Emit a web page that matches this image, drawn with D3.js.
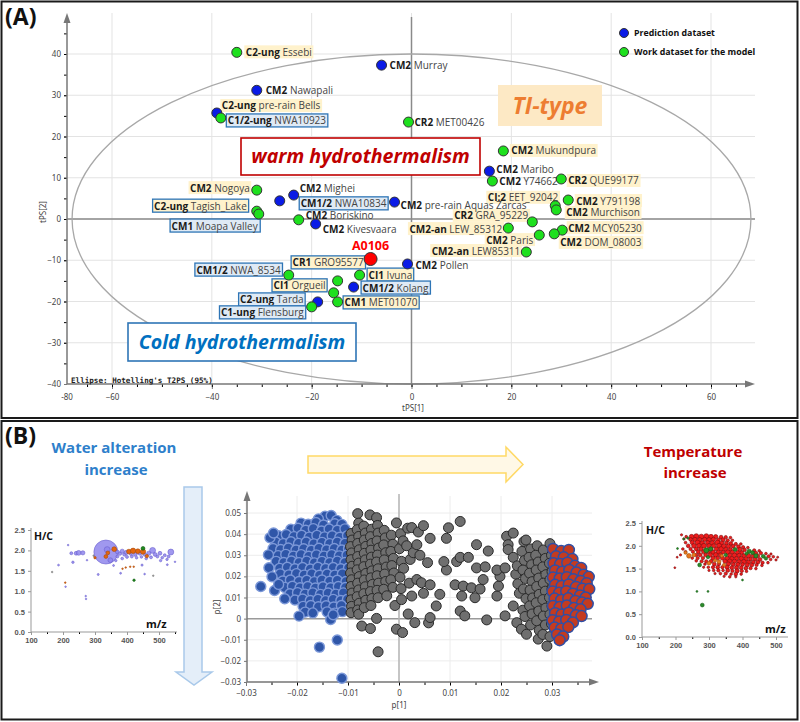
<!DOCTYPE html>
<html><head><meta charset="utf-8">
<script src="https://cdn.jsdelivr.net/npm/d3@7"></script>
<style>body{margin:0;background:#fff}svg{display:block}text{font-family:"Open Sans","Noto Sans",sans-serif}</style>
</head><body><svg id="c" width="800" height="722"></svg>
<script>
// ---------------- DATA : panel A (scores) ----------------
const sampleClass = ["C2-ung","CM2","CM2","C2-ung","C1/2-ung","CR2","CM2","CM2","CM2","CR2","CM2","CI:2","CM2","CR2","CM2-an","CM2","CM2","CM2","CM2-an","CM2","CM2","CM2","CM2","CM1/2","C2-ung","CM1","CM2","CM2","CM1/2","CR1","CI1","CI1","CM1/2","CM1","C2-ung","C1-ung"];
const sampleName = ["Essebi","Murray","Nawapali","pre-rain Bells","NWA10923","MET00426","Mukundpura","Maribo","Y74662","QUE99177","Y791198","EET_92042","Murchison","GRA_95229","LEW_85312","Paris","MCY05230","DOM_08003","LEW85311","Pollen","pre-rain Aquas Zarcas","Nogoya","Mighei","NWA10834","Tagish_Lake","Moapa Valley","Boriskino","Kivesvaara","NWA_8534","GRO95577","Ivuna","Orgueil","Kolang","MET01070","Tarda","Flensburg"];
const dataset = ["work","pred","pred","pred","work","work","work","pred","work","work","work","work","work","work","work","work","work","work","work","pred","pred","work","pred","pred","work","work","work","pred","work","work","work","work","pred","work","pred","work"];
const tps1 = [-35,-6,-31,-39,-38.2,-0.6,18.4,15.6,16.2,30,31.4,28.8,29,24.2,19.4,25.6,30.2,28.6,23,-0.8,-3.4,-31,-23.6,-26.4,-31,-30.6,-22.6,-19.2,-24.6,-14.8,-10.4,-15.6,-11.6,-14.8,-18.8,-20];
const tps2 = [40.4,37.3,31.2,25.7,24.5,23.5,16.5,11.6,9.2,9.7,4.6,3.2,2.2,-0.7,-2.2,-3.9,-2.7,-3.6,-8,-10.9,4.1,7.0,5.8,4.4,1.9,1.2,-0.2,-1.2,-13.6,-15,-13.6,-17.9,-16.5,-20.1,-20.1,-21.3];
const targetName = "A0106", targetT1 = -8.2, targetT2 = -9.7;
const xTicksA = [-60,-40,-20,0,20,40,60];
const yTicksA = [-40,-30,-20,-10,0,10,20,30,40];
const ellipseT1 = 68, ellipseT2 = 40;

// ---------------- DATA : panel B (loadings) ----------------
const bluePts = [[-0.0145,0.0485],[-0.0133,0.0488],[-0.0158,0.0472],[-0.0122,0.0465],
[-0.0192,0.0452],[-0.0178,0.0447],[-0.0163,0.0455],[-0.0148,0.0443],[-0.0126,0.0449],[-0.0112,0.0446],
[-0.0212,0.0423],[-0.0198,0.0428],[-0.0183,0.0418],[-0.0168,0.0426],[-0.0152,0.0415],[-0.0137,0.0424],[-0.0121,0.0418],[-0.0106,0.0425],
[-0.0236,0.0392],[-0.0221,0.0398],[-0.0206,0.0388],[-0.0191,0.0395],[-0.0176,0.0386],[-0.0161,0.0394],[-0.0146,0.0387],[-0.0131,0.0392],[-0.0116,0.0385],[-0.0101,0.0393],
[-0.0242,0.0362],[-0.0227,0.0355],[-0.0212,0.0364],[-0.0197,0.0356],[-0.0182,0.0363],[-0.0167,0.0354],[-0.0151,0.0361],[-0.0136,0.0355],[-0.0121,0.0362],[-0.0106,0.0356],
[-0.0247,0.0332],[-0.0232,0.0327],[-0.0217,0.0334],[-0.0202,0.0325],[-0.0187,0.0331],[-0.0172,0.0324],[-0.0157,0.0333],[-0.0142,0.0326],[-0.0127,0.0332],[-0.0112,0.0325],[-0.0099,0.0331],
[-0.0237,0.0298],[-0.0222,0.0304],[-0.0207,0.0296],[-0.0192,0.0303],[-0.0177,0.0295],[-0.0162,0.0302],[-0.0147,0.0296],[-0.0132,0.0303],[-0.0117,0.0297],[-0.0102,0.0301],
[-0.0241,0.0271],[-0.0226,0.0266],[-0.0211,0.0273],[-0.0196,0.0265],[-0.0181,0.0272],[-0.0166,0.0264],[-0.0151,0.0271],[-0.0136,0.0265],[-0.0121,0.0272],[-0.0106,0.0266],
[-0.0234,0.0238],[-0.0219,0.0243],[-0.0204,0.0236],[-0.0189,0.0242],[-0.0174,0.0235],[-0.0159,0.0243],[-0.0144,0.0237],[-0.0129,0.0242],[-0.0114,0.0236],[-0.0099,0.0241],
[-0.0233,0.0212],[-0.0216,0.0207],[-0.0201,0.0213],[-0.0186,0.0206],[-0.0171,0.0212],[-0.0156,0.0205],[-0.0141,0.0211],[-0.0126,0.0206],[-0.0111,0.0212],
[-0.0228,0.0178],[-0.0213,0.0183],[-0.0196,0.0176],[-0.0181,0.0182],[-0.0166,0.0175],[-0.0151,0.0183],[-0.0136,0.0177],[-0.0121,0.0182],[-0.0104,0.0176],
[-0.0224,0.0148],[-0.0209,0.0153],[-0.0194,0.0146],[-0.0179,0.0152],[-0.0164,0.0145],[-0.0149,0.0151],[-0.0134,0.0146],[-0.0119,0.0152],[-0.0105,0.0147],
[-0.0214,0.0118],[-0.0199,0.0123],[-0.0184,0.0116],[-0.0169,0.0122],[-0.0154,0.0115],[-0.0139,0.0121],[-0.0124,0.0116],[-0.0109,0.0122],
[-0.0204,0.0088],[-0.0189,0.0093],[-0.0174,0.0086],[-0.0159,0.0092],[-0.0144,0.0085],[-0.0129,0.0091],[-0.0114,0.0086],[-0.0101,0.0092],
[-0.0188,0.0058],[-0.0173,0.0062],[-0.0158,0.0056],[-0.0143,0.0061],[-0.0128,0.0055],[-0.0113,0.0062],
[-0.0184,0.0031],[-0.0169,0.0027],[-0.0141,0.0032],[-0.0126,0.0026],[-0.0111,0.0033],
[-0.0271,0.0152],[-0.0256,0.0302],[-0.0255,0.0241],[-0.0253,0.0383],[-0.0246,0.0405],[-0.0244,0.0133],[-0.0196,0.0012],[-0.0134,-0.0004],[-0.0129,0.0018],[-0.0156,-0.0135],[-0.0121,-0.0101],[-0.0112,-0.0282],[-0.0249,0.0198],[-0.0236,0.0162],[-0.0224,0.0094]];
const grayPts = [[-0.0094,0.0403],[-0.0092,0.0372],[-0.0095,0.0341],[-0.0093,0.0311],[-0.0094,0.0279],[-0.0092,0.0248],[-0.0095,0.0216],[-0.0093,0.0184],[-0.0094,0.0152],[-0.0092,0.0121],[-0.0094,0.0089],[-0.0093,0.0058],[-0.0094,0.0028],
[-0.0081,0.0497],[-0.0079,0.0452],[-0.0082,0.0421],[-0.0079,0.0389],[-0.0081,0.0356],[-0.0078,0.0326],[-0.0081,0.0294],[-0.0079,0.0263],[-0.0082,0.0231],[-0.0078,0.0199],[-0.0081,0.0168],[-0.0079,0.0136],[-0.0082,0.0104],[-0.0078,0.0073],[-0.0081,0.0041],[-0.0079,0.0021],
[-0.0069,0.0438],[-0.0066,0.0405],[-0.0068,0.0372],[-0.0065,0.0342],[-0.0068,0.0309],[-0.0066,0.0278],[-0.0069,0.0246],[-0.0065,0.0214],[-0.0068,0.0183],[-0.0066,0.0151],[-0.0069,0.0118],[-0.0065,0.0087],[-0.0068,0.0052],[-0.0073,-0.0035],
[-0.0057,0.0491],[-0.0054,0.0423],[-0.0056,0.0388],[-0.0053,0.0356],[-0.0055,0.0324],[-0.0054,0.0291],[-0.0056,0.0258],[-0.0053,0.0226],[-0.0055,0.0193],[-0.0052,0.0162],[-0.0056,0.0128],[-0.0053,0.0095],[-0.0055,0.0062],[-0.0056,-0.0047],
[-0.0044,0.0478],[-0.0042,0.0441],[-0.0041,0.0405],[-0.0043,0.0368],[-0.0040,0.0334],[-0.0042,0.0301],[-0.0044,0.0268],[-0.0041,0.0236],[-0.0043,0.0203],[-0.0040,0.0168],[-0.0043,0.0134],[-0.0041,0.0099],[-0.0044,0.0001],[-0.0041,-0.0157],
[-0.0029,0.0418],[-0.0027,0.0382],[-0.0030,0.0349],[-0.0026,0.0312],[-0.0029,0.0278],[-0.0025,0.0244],[-0.0028,0.0211],[-0.0026,0.0176],[-0.0030,0.0139],[-0.0024,0.0108],
[-0.0015,0.0395],[-0.0012,0.0352],[-0.0016,0.0318],[-0.0011,0.0285],[-0.0014,0.0251],[-0.0010,0.0216],[-0.0016,0.0184],[-0.0012,0.0148],[-0.0008,0.0062],
[-0.0005,0.0453],[0.0003,0.0402],[0.0001,0.0331],[0.0008,0.0368],[0.0005,0.0271],[0.0009,0.0238],[0.0002,0.0196],[0.0004,0.0142],[0.0005,0.0090],[-0.0005,-0.0050],[0.0007,-0.0066],[0.0018,0.0022],[0.0031,-0.0019],
[0.0017,0.0428],[0.0025,0.0431],[0.0022,0.0280],[0.0015,0.0345],[0.0028,0.0312],[0.0025,0.0107],[0.0020,0.0168],
[0.0038,0.0410],[0.0048,0.0440],[0.0035,0.0350],[0.0041,0.0300],[0.0035,0.0185],[0.0044,0.0170],[0.0048,0.0120],[0.0061,0.0160],[0.0061,0.0380],[0.0058,-0.0020],[0.0061,0.0005],[0.0056,0.0265],
[0.0073,0.0060],[0.0080,0.0115],[0.0093,0.0230],[0.0093,0.0380],[0.0097,0.0430],[0.0088,0.0270],[0.0110,0.0160],[0.0113,0.0270],[0.0120,0.0290],[0.0120,0.0460],[0.0120,0.0036],[0.0129,0.0013],[0.0126,0.0154],[0.0123,0.0107],[0.0136,0.0290],
[0.0142,0.0146],[0.0149,0.0099],[0.0152,0.0240],[0.0152,0.0350],[0.0159,0.0140],[0.0165,0.0185],[0.0169,0.0245],[0.0172,-0.0006],[0.0175,0.0320],
[0.0192,0.0107],[0.0195,0.0154],[0.0198,0.0200],[0.0192,0.0230],[0.0208,0.0240],[0.0208,0.0013],[0.0211,0.0390],[0.0214,0.0350],[0.0214,0.0327],
[0.0224,0.0405],[0.0224,0.0290],[0.0224,0.0060],[0.0231,-0.0019],[0.0240,-0.0050],[0.0250,-0.0074],[0.0273,-0.0097],[0.0290,-0.0130],
[0.0229,0.0210],[0.0233,0.0165],[0.0236,0.0120],[0.0232,0.0250],
[0.0245,0.0365],[0.0249,0.0372],[0.0241,0.0318],[0.0246,0.0275],[0.0243,0.0230],[0.0248,0.0190],[0.0244,0.0140],[0.0249,0.0095],[0.0243,0.0040],[0.0247,0.0010],
[0.0258,0.0330],[0.0255,0.0290],[0.0260,0.0255],[0.0256,0.0215],[0.0261,0.0175],[0.0257,0.0135],[0.0262,0.0098],[0.0256,0.0060],[0.0261,0.0022],[0.0258,-0.0030],
[0.0271,0.0345],[0.0268,0.0300],[0.0273,0.0268],[0.0269,0.0230],[0.0274,0.0192],[0.0270,0.0152],[0.0275,0.0115],[0.0269,0.0075],[0.0274,0.0036],[0.0270,-0.0010],[0.0275,-0.0055],
[0.0283,0.0325],[0.0287,0.0285],[0.0282,0.0245],[0.0288,0.0208],[0.0283,0.0168],[0.0287,0.0130],[0.0282,0.0090],[0.0288,0.0050],[0.0283,0.0012],[0.0287,-0.0030],[0.0282,-0.0075],
[0.0296,0.0355],[0.0299,0.0300],[0.0295,0.0262],[0.0300,0.0222],[0.0296,0.0185],[0.0300,0.0140],[0.0295,0.0100],[0.0300,0.0060],[0.0296,0.0020],[0.0299,-0.0025],[0.0296,-0.0085],
[0.0306,0.0280],[0.0308,0.0150],[0.0305,0.0040],[0.0309,-0.0050]];
const redPts = [[0.0302,0.0330],[0.0318,0.0320],[0.0333,0.0325],[0.0308,0.0295],[0.0323,0.0290],[0.0340,0.0282],
[0.0303,0.0262],[0.0316,0.0258],[0.0330,0.0265],[0.0345,0.0250],[0.0357,0.0240],
[0.0306,0.0228],[0.0320,0.0222],[0.0334,0.0230],[0.0348,0.0218],[0.0362,0.0208],[0.0372,0.0198],
[0.0302,0.0195],[0.0315,0.0190],[0.0329,0.0196],[0.0342,0.0186],[0.0356,0.0178],[0.0368,0.0168],
[0.0306,0.0160],[0.0319,0.0155],[0.0333,0.0162],[0.0347,0.0150],[0.0360,0.0142],[0.0373,0.0140],
[0.0301,0.0128],[0.0314,0.0122],[0.0328,0.0130],[0.0341,0.0118],[0.0355,0.0110],[0.0366,0.0100],
[0.0305,0.0095],[0.0318,0.0088],[0.0332,0.0096],[0.0346,0.0084],[0.0359,0.0076],[0.0370,0.0070],
[0.0302,0.0060],[0.0315,0.0055],[0.0329,0.0062],[0.0343,0.0050],[0.0356,0.0044],
[0.0306,0.0026],[0.0319,0.0020],[0.0333,0.0028],[0.0347,0.0016],[0.0358,0.0012],
[0.0301,-0.0008],[0.0314,-0.0014],[0.0328,-0.0006],[0.0341,-0.0018],
[0.0305,-0.0042],[0.0318,-0.0048],[0.0332,-0.0040],
[0.0310,-0.0075],[0.0322,-0.0085],[0.0315,-0.0102]];
const xTicksB = [-0.03,-0.02,-0.01,0,0.01,0.02,0.03];
const yTicksB = [-0.03,-0.02,-0.01,0,0.01,0.02,0.03,0.04,0.05];

// ---------------- DATA : van Krevelen-type insets [m/z, H/C, intensity] ----------------
const leftPurple = [[334,1.96,100],[338,2.02,6],[348,1.76,4],[216,2.13,0.3],[226,1.93,1.5],[241,1.93,2.5],[249,1.94,4],[262,1.94,3],[231,1.71,1],[186,1.64,0.6],[208,1.11,0.3],[271,0.88,0.3],[272,0.81,0.3],[275,1.76,0.3],[310,1.41,0.7],
[370,1.96,2.5],[378,1.92,2],[385,1.98,3],[392,1.9,2],[398,1.95,3],[412,1.92,2],[426,1.9,2.5],[440,1.93,2.5],[455,1.9,2],[468,1.93,3],[480,2.0,6],[488,1.9,2.5],[495,1.85,1.5],[503,1.93,2.5],[510,1.82,1.2],[518,1.88,1.5],[525,1.78,1],[537,1.96,6],[475,1.83,1.5],[460,1.8,1.2],[445,1.84,1.2],[430,1.82,1.2],[415,1.85,1.5],[400,1.84,1.5],[385,1.8,1.2],[370,1.85,1.5],[365,1.75,1],[380,1.44,0.6],[447,1.64,0.8],[455,1.42,0.5],[526,1.65,0.6],[550,1.72,0.4],[505,1.75,1],[530,1.85,1.5],[358,1.63,0.6]];
const leftOrange = [[360,2.03,4],[334,1.85,2.5],[340,1.94,2.5],[406,1.97,4],[419,1.99,5],[434,1.98,4],[450,1.97,5],[462,1.86,2],[396,1.58,0.4],[410,1.6,0.4],[421,1.6,0.4],[386,1.55,0.4],[207,1.21,0.4],[300,1.82,1]];
const leftGreen = [[450,2.05,2.5],[422,1.27,1]];
const leftGray = [[166,1.47,0.3],[296,1.87,0.5],[482,1.38,0.3]];
const rightRed = [[218,2.24,1.5],[232,2.2,2],[248,2.2,6],[262,2.21,7],[277,2.2,7],[292,2.21,7],[306,2.2,6],[320,2.2,5],[336,2.19,4],[350,2.19,3],[364,2.18,2],
[225,2.15,1.5],[245,2.14,4],[258,2.14,5],[272,2.13,6],[287,2.14,5],[300,2.13,6],[313,2.14,5],[328,2.13,4],[342,2.13,5],[356,2.12,3],[370,2.12,2],
[230,2.07,2],[250,2.07,5],[266,2.07,7],[280,2.06,6],[296,2.07,5],[310,2.06,6],[325,2.07,7],[338,2.06,5],[352,2.06,4],[365,2.05,4],[380,2.04,3],[395,2.04,2],
[238,2.0,4],[255,2.0,6],[270,2.0,6],[285,2.0,7],[300,2.0,6],[314,2.0,5],[330,2.0,7],[344,1.99,6],[358,1.99,5],[372,1.99,4],[388,1.98,4],[402,1.97,3],[416,1.96,2],
[222,1.93,2],[245,1.93,3],[262,1.93,4],[276,1.93,5],[306,1.93,4],[322,1.93,5],[336,1.93,6],[350,1.92,5],[364,1.92,4],[392,1.92,5],[406,1.91,4],[435,1.9,3],[450,1.89,2],
[230,1.87,2],[252,1.87,3],[268,1.87,4],[284,1.87,5],[298,1.87,5],[312,1.86,6],[328,1.86,5],[342,1.86,4],[356,1.86,6],[370,1.86,5],[385,1.85,5],[398,1.85,4],[440,1.84,4],[455,1.84,3],[470,1.83,2],[485,1.82,1.5],
[215,1.8,1.5],[262,1.8,3],[274,1.8,4],[290,1.8,4],[304,1.8,5],[320,1.8,6],[334,1.8,5],[362,1.79,5],[376,1.79,6],[390,1.79,5],[404,1.78,5],[418,1.78,6],[432,1.78,5],[446,1.78,4],[478,1.77,3],[492,1.76,2],[505,1.75,1.2],
[250,1.73,2],[266,1.73,3],[282,1.73,3],[312,1.73,5],[326,1.73,4],[340,1.73,5],[354,1.72,6],[368,1.72,5],[382,1.72,5],[396,1.72,6],[410,1.71,5],[424,1.71,4],[438,1.71,5],[452,1.7,4],[484,1.7,2],[500,1.69,1.5],
[262,1.67,2],[278,1.66,3],[292,1.66,3],[306,1.66,4],[348,1.66,5],[362,1.66,6],[376,1.66,5],[390,1.65,5],[404,1.65,6],[418,1.64,5],[432,1.64,4],[446,1.64,4],[460,1.63,3],[476,1.63,2],
[288,1.6,2],[316,1.6,4],[330,1.6,3],[358,1.6,5],[372,1.59,4],[386,1.59,5],[400,1.59,4],[414,1.58,5],[428,1.58,4],[442,1.58,3],[458,1.57,2],
[284,1.53,1.5],[298,1.53,2],[312,1.53,3],[326,1.53,4],[340,1.53,3],[354,1.53,5],[368,1.52,4],[382,1.52,5],[396,1.52,4],[410,1.51,4],[424,1.51,3],[440,1.5,2],
[300,1.46,1.5],[314,1.46,2],[328,1.46,3],[342,1.46,2],[356,1.46,4],[370,1.45,3],[384,1.45,5],[398,1.45,3],[412,1.44,2],
[318,1.39,1.5],[334,1.39,2],[350,1.39,3],[366,1.38,2],[380,1.38,4],[396,1.38,2],
[345,1.33,1.5],[362,1.32,2],[380,1.32,1.5],[198,1.52,1],[205,1.75,1]];
const rightOrange = [[240,1.78,6],[255,1.8,4],[230,1.85,3],[330,1.65,4],[318,1.68,3],[345,1.58,3],[300,1.62,4],[338,1.78,3]];
const rightGreen = [[280,0.70,4],[264,1.0,1],[297,1.0,1],[400,1.25,1],[206,1.94,1],[292,1.9,7],[305,1.93,5],[378,1.92,4],[420,1.88,5],[430,1.85,4],[462,1.77,4],[440,1.78,5],[272,1.58,4],[350,1.8,3],[237,2.17,1.5],[225,2.15,1.2],[470,1.72,3],[412,1.83,3],[297,1.75,3]];
const insetXTicks = [100,200,300,400,500];
const insetYTicks = [0,0.5,1,1.5,2,2.5];

// ---------------- LAYOUT (label placement, px offsets) ----------------
const labelLayout = [[9,0,"start","y"],[8,0,"start","n"],[9,0,"start","n"],[5,-7,"start","y"],[7,3,"start","b"],[6,0,"start","n"],[8,0,"start","y"],[7,-2,"start","n"],[7,0,"start","n"],[7,2,"start","y"],[8,1,"start","y"],[3,-8,"end","y"],[10,3,"start","y"],[-4,-6,"end","y"],[-6,1,"end","y"],[-6,5,"end","y"],[6,-2,"start","y"],[6,9,"start","y"],[-6,-1,"end","y"],[8,2,"start","n"],[6,3,"start","n"],[-7,-2,"end","y"],[6,-7,"start","n"],[21,3,"start","b"],[-10,-5,"end","yb"],[-1,12,"end","b"],[7,-4,"start","n"],[7,6,"start","n"],[-8,-5,"end","b"],[-45,-18,"start","yb"],[9,0,"start","yb"],[-8,-7,"end","yb"],[9,1,"start","b"],[7,1,"start","yb"],[-14,-2,"end","b"],[-8,6,"end","b"]];

const svg = d3.select("#c");
function arrowHead(g, pts, col){ g.append("path").attr("d","M"+pts.map(p=>p.join(",")).join("L")+"Z").attr("fill",col); }

// ================= PANEL A =================
svg.append("rect").attr("x",1.5).attr("y",1.5).attr("width",796).attr("height",416.5).attr("fill","#fff").attr("stroke","#1a1a1a").attr("stroke-width",2);
const gA = svg.append("g");
const xA = d3.scaleLinear().domain([-60,60]).range([112,711]);
const yA = d3.scaleLinear().domain([-40,40]).range([384,54]);
gA.selectAll(".vg").data(xTicksA).join("line").attr("x1",d=>xA(d)).attr("x2",d=>xA(d)).attr("y1",13).attr("y2",384).attr("stroke","#e3e3e3");
gA.selectAll(".hg").data(yTicksA.filter(d=>d>-40)).join("line").attr("x1",67).attr("x2",755).attr("y1",d=>yA(d)).attr("y2",d=>yA(d)).attr("stroke","#e3e3e3");
gA.append("line").attr("x1",67).attr("x2",755).attr("y1",yA(0)).attr("y2",yA(0)).attr("stroke","#8a8a8a").attr("stroke-width",1.5);
gA.append("line").attr("x1",xA(0)).attr("x2",xA(0)).attr("y1",17).attr("y2",384).attr("stroke","#8a8a8a").attr("stroke-width",1.5);
gA.append("ellipse").attr("cx",xA(0)).attr("cy",yA(0)).attr("rx",xA(ellipseT1)-xA(0)).attr("ry",yA(0)-yA(ellipseT2)).attr("fill","none").attr("stroke","#a8a8a8").attr("stroke-width",1.3);
const axXA = gA.append("g").attr("transform","translate(0,384)").call(d3.axisBottom(xA).tickValues(xTicksA).tickSize(5).tickPadding(5).tickFormat(d3.format("d")));
const axYA = gA.append("g").attr("transform","translate(67,0)").call(d3.axisLeft(yA).tickValues(yTicksA).tickSize(3).tickPadding(3).tickFormat(d3.format("d")));
gA.append("g").attr("transform","translate(0,384)").call(d3.axisBottom(xA).tickValues(d3.range(-65,66,5)).tickSize(3).tickFormat("")).select(".domain").remove();
gA.append("g").attr("transform","translate(67,0)").call(d3.axisLeft(yA).tickValues(d3.range(-35,46,5)).tickSize(3).tickFormat("")).select(".domain").remove();
[axXA,axYA].forEach(a=>{a.select(".domain").remove();a.selectAll("line").attr("stroke","#777");a.selectAll("text").attr("fill","#444").style("font-size","8px").style("font-family","Noto Sans");});
gA.append("line").attr("x1",67).attr("x2",748).attr("y1",384).attr("y2",384).attr("stroke","#777").attr("stroke-width",1.5);
gA.append("line").attr("x1",67).attr("x2",67).attr("y1",20).attr("y2",384).attr("stroke","#777").attr("stroke-width",1.5);
arrowHead(gA,[[755,384],[745,380.5],[745,387.5]],"#777");
arrowHead(gA,[[67,13],[63.5,23],[70.5,23]],"#777");
gA.append("text").attr("x",67).attr("y",400).attr("text-anchor","middle").attr("fill","#444").style("font-size","8px").style("font-family","Noto Sans").text("-80");
gA.append("text").attr("x",413).attr("y",411).attr("text-anchor","middle").attr("fill","#444").style("font-size","8px").style("font-family","Noto Sans").text("tPS[1]");
gA.append("text").attr("transform","translate(46,212) rotate(-90)").attr("text-anchor","middle").attr("fill","#444").style("font-size","8px").style("font-family","Noto Sans").text("tPS[2]");
function bigBox(x,y,w,h,fill,stroke,txt,col,fs){
  gA.append("rect").attr("x",x).attr("y",y).attr("width",w).attr("height",h).attr("fill",fill).attr("stroke",stroke).attr("stroke-width",stroke==="none"?0:1.6);
  gA.append("text").attr("x",x+w/2).attr("y",y+h/2).attr("dy","0.35em").attr("text-anchor","middle").attr("fill",col).style("font-size",fs+"px").style("font-weight","bold").style("font-style","italic").text(txt);
}
bigBox(241,138,239,37,"#fff","#c00000","warm hydrothermalism","#c00000",19.6);
bigBox(498,85,104,41,"#fde9c5","none","TI-type","#ed7d31",23);
bigBox(128,323,228,38,"#fff","#2e75b6","Cold hydrothermalism","#0070c0",19.6);
gA.append("text").attr("x",71).attr("y",383).attr("fill","#222").style("font-family","DejaVu Sans Mono").style("font-size","7.6px").style("font-weight","bold").text("Ellipse: Hotelling's T2PS (95%)");
const styleFill = {y:"#fff2cc", b:"#dfeaf5", yb:"#fff2cc"};
const lab = gA.append("g");
sampleName.forEach((nm,i)=>{
  const [dx,dy,anc,st] = labelLayout[i];
  const px = xA(tps1[i])+dx, py = yA(tps2[i])+dy;
  const g = lab.append("g");
  const t = g.append("text").attr("x",px).attr("y",py).attr("dy","0.35em").attr("text-anchor",anc).style("font-size","10px");
  t.append("tspan").attr("fill","#1a1a1a").style("font-weight","bold").text(sampleClass[i]);
  t.append("tspan").attr("fill","#444").text(" "+nm);
  if(st!=="n"){
    const bb = t.node().getBBox();
    g.insert("rect","text").attr("x",bb.x-1.5).attr("y",bb.y+0.5).attr("width",bb.width+3).attr("height",bb.height-1)
      .attr("fill",styleFill[st]).attr("stroke",st==="y"?"none":"#2e75b6").attr("stroke-width",1.3);
  }
});
const colA = {pred:"#0a1be6", work:"#1ee01e"};
gA.selectAll(".ptA").data(sampleName.map((d,i)=>i)).join("circle").attr("cx",i=>xA(tps1[i])).attr("cy",i=>yA(tps2[i])).attr("r",5)
  .attr("fill",i=>colA[dataset[i]]).attr("stroke","#333").attr("stroke-width",1);
gA.append("circle").attr("cx",xA(targetT1)).attr("cy",yA(targetT2)).attr("r",6.5).attr("fill","#ff0000").attr("stroke","#333").attr("stroke-width",1);
gA.append("text").attr("x",xA(targetT1)).attr("y",yA(targetT2)-13).attr("dy","0.35em").attr("text-anchor","middle").attr("fill","#ff0000").style("font-size","12.5px").style("font-weight","bold").text(targetName);
[["Prediction dataset",colA.pred,33],["Work dataset for the model",colA.work,52]].forEach(([t,c,y])=>{
  gA.append("circle").attr("cx",624).attr("cy",y).attr("r",4.5).attr("fill",c).attr("stroke","#333");
  gA.append("text").attr("x",634).attr("y",y).attr("dy","0.35em").attr("fill","#111").style("font-size","8.8px").style("font-weight","bold").text(t);
});
svg.append("text").attr("x",5).attr("y",25).attr("fill","#111").style("font-size","23px").style("font-weight","bold").text("(A)");

// ================= PANEL B =================
svg.append("rect").attr("x",1.5).attr("y",421).attr("width",796).attr("height",298.5).attr("fill","#fff").attr("stroke","#1a1a1a").attr("stroke-width",2);
svg.append("text").attr("x",5).attr("y",444).attr("fill","#111").style("font-size","23px").style("font-weight","bold").text("(B)");
const gB = svg.append("g");
const ttl = (x,y,t,c)=>gB.append("text").attr("x",x).attr("y",y).attr("dy","0.35em").attr("text-anchor","middle").attr("fill",c).style("font-size","15px").style("font-weight","bold").text(t);
ttl(114,448,"Water alteration","#2e7fcb"); ttl(116,470,"increase","#2e7fcb");
ttl(693,452,"Temperature","#c00000"); ttl(695,473,"increase","#c00000");
gB.append("path").attr("d","M184,487H202V672H212L194,685L176,672H184Z").attr("fill","#e4eef9").attr("stroke","#a9c9ea").attr("stroke-width",1.5);
gB.append("path").attr("d","M308,456H506V447L523,464.5L506,482V473H308Z").attr("fill","#fff8e6").attr("stroke","#ffd966").attr("stroke-width",1.5);

const xB = d3.scaleLinear().domain([-0.03,0.03]).range([246,552]);
const yB = d3.scaleLinear().domain([-0.03,0.05]).range([682,513]);
gB.selectAll(".vgb").data(xTicksB).join("line").attr("x1",d=>xB(d)).attr("x2",d=>xB(d)).attr("y1",496).attr("y2",682).attr("stroke","#ececec");
gB.selectAll(".hgb").data(yTicksB).join("line").attr("x1",247).attr("x2",592).attr("y1",d=>yB(d)).attr("y2",d=>yB(d)).attr("stroke","#ececec");
gB.append("line").attr("x1",247).attr("x2",592).attr("y1",yB(0)).attr("y2",yB(0)).attr("stroke","#9a9a9a").attr("stroke-width",1.5);
gB.append("line").attr("x1",xB(0)).attr("x2",xB(0)).attr("y1",494).attr("y2",682).attr("stroke","#b5b5b5").attr("stroke-width",1.5);
const axXB = gB.append("g").attr("transform","translate(0,682)").call(d3.axisBottom(xB).tickValues(xTicksB).tickSize(4).tickPadding(4).tickFormat(d=>d===0?"0":d3.format(".2f")(d)));
const axYB = gB.append("g").attr("transform","translate(247,0)").call(d3.axisLeft(yB).tickValues(yTicksB).tickSize(3).tickPadding(3).tickFormat(d=>Math.abs(d)<1e-9?"0":d3.format(".2f")(d)));
gB.append("g").attr("transform","translate(0,682)").call(d3.axisBottom(xB).tickValues(d3.range(-0.025,0.036,0.005)).tickSize(3).tickFormat("")).select(".domain").remove();
[axXB,axYB].forEach(a=>{a.select(".domain").remove();a.selectAll("line").attr("stroke","#777");a.selectAll("text").attr("fill","#444").style("font-size","8px").style("font-family","Noto Sans");});
gB.append("line").attr("x1",247).attr("x2",592).attr("y1",682).attr("y2",682).attr("stroke","#777").attr("stroke-width",1.5);
gB.append("line").attr("x1",247).attr("x2",247).attr("y1",498).attr("y2",682).attr("stroke","#777").attr("stroke-width",1.5);
arrowHead(gB,[[599,682],[589,678.5],[589,685.5]],"#777");
arrowHead(gB,[[247,491],[243.5,501],[250.5,501]],"#777");
gB.append("text").attr("x",399).attr("y",708).attr("text-anchor","middle").attr("fill","#444").style("font-size","8px").style("font-family","Noto Sans").text("p[1]");
gB.append("text").attr("transform","translate(220,607) rotate(-90)").attr("text-anchor","middle").attr("fill","#444").style("font-size","8px").style("font-family","Noto Sans").text("p[2]");
gB.append("g").selectAll("circle").data(bluePts).join("circle").attr("cx",d=>xB(d[0])).attr("cy",d=>yB(d[1])).attr("r",5).attr("fill","#2f56a8").attr("stroke","#7c98d8").attr("stroke-width",1.4);
gB.append("g").selectAll("circle").data(grayPts).join("circle").attr("cx",d=>xB(d[0])).attr("cy",d=>yB(d[1])).attr("r",5).attr("fill","#6f6f6f").attr("stroke","#2a2a2a").attr("stroke-width",1);
gB.append("g").selectAll("circle").data(redPts).join("circle").attr("cx",d=>xB(d[0])).attr("cy",d=>yB(d[1])).attr("r",5.5).attr("fill","#c43b20").attr("stroke","#2f4fa6").attr("stroke-width",1.5);

function inset(x0,x1,xEnd,y0,y1,yTop,hcX,hcY,mzX,mzY,rMax,series){
  const xs = d3.scaleLinear().domain([100,500]).range([x0,x1]);
  const ys = d3.scaleLinear().domain([0,2.5]).range([y0,y1]);
  const rs = d3.scaleSqrt().domain([0,100]).range([0,rMax]);
  const g = gB.append("g");
  const ax = g.append("g").attr("transform",`translate(0,${y0})`).call(d3.axisBottom(xs).tickValues(insetXTicks).tickSize(3).tickPadding(3));
  const ay = g.append("g").attr("transform",`translate(${x0},0)`).call(d3.axisLeft(ys).tickValues(insetYTicks).tickSize(3).tickPadding(3));
  g.append("g").attr("transform",`translate(0,${y0})`).call(d3.axisBottom(xs).tickValues([150,250,350,450,550].filter(v=>xs(v)<xEnd)).tickSize(2).tickFormat("")).select(".domain").remove();
  [ax,ay].forEach(a=>{a.select(".domain").remove();a.selectAll("line").attr("stroke","#999");a.selectAll("text").attr("fill","#555").style("font-size","7.5px").style("font-weight","bold").style("font-family","Arial, Liberation Sans");});
  g.append("line").attr("x1",x0).attr("x2",xEnd).attr("y1",y0).attr("y2",y0).attr("stroke","#999");
  g.append("line").attr("x1",x0).attr("x2",x0).attr("y1",y0).attr("y2",yTop).attr("stroke","#999");
  g.append("text").attr("x",hcX).attr("y",hcY).attr("dy","0.35em").attr("fill","#111").style("font-size","10.5px").style("font-weight","bold").text("H/C");
  g.append("text").attr("x",mzX).attr("y",mzY).attr("dy","0.35em").attr("fill","#111").style("font-size","11px").style("font-weight","bold").text("m/z");
  series.forEach(([arr,fill,stroke,op])=>{
    g.append("g").selectAll("circle").data(arr).join("circle").attr("cx",d=>xs(d[0])).attr("cy",d=>ys(d[1])).attr("r",d=>Math.max(0.8,rs(d[2])))
      .attr("fill",fill).attr("fill-opacity",op).attr("stroke",stroke).attr("stroke-width",0.6);
  });
}
inset(31,159,177,632,530,528,34,536,146,624,12,[[leftGray,"#9a9a9a","#777",1],[leftPurple,"#8f86ec","#6c62cf",0.85],[leftOrange,"#e2650f","#a84a0a",1],[leftGreen,"#1f8a1f","#145c14",1]]);
inset(642,776,788,637,523,521,646,530,765,629,9.5,[[rightRed,"#ee1c1c","#7a0c0c",1],[rightOrange,"#e8781c","#a04d0c",1],[rightGreen,"#2a8c2a","#155c15",1]]);
</script></body></html>
